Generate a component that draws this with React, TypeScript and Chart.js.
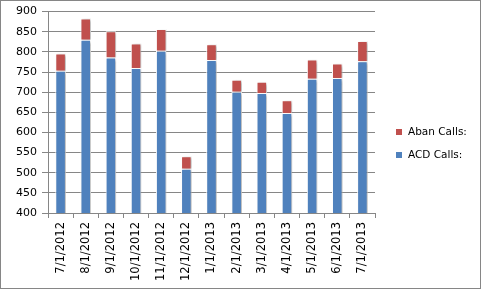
import React, { useEffect, useRef } from "react";
import { Chart, registerables } from "chart.js";

Chart.register(...registerables);

const categories = [
  "7/1/2012", "8/1/2012", "9/1/2012", "10/1/2012", "11/1/2012", "12/1/2012",
  "1/1/2013", "2/1/2013", "3/1/2013", "4/1/2013", "5/1/2013", "6/1/2013", "7/1/2013",
];
const acdCalls = [753, 830, 786, 760, 803, 510, 780, 701, 698, 648, 733, 735, 777];
const abanCalls = [43, 53, 65, 61, 54, 31, 39, 30, 28, 32, 48, 36, 50];
const seriesNames = ["ACD Calls:", "Aban Calls:"];
const yMin = 400;
const yMax = 900;
const yStep = 50;

const BLUE = "#4F81BD";
const RED = "#C0504D";
const GRID = "#868686";
const FONT = "'DejaVu Sans', sans-serif";

const shadowPlugin = {
  id: "barShadow",
  beforeDatasetsDraw(chart: any) {
    const ctx = chart.ctx;
    ctx.save();
    ctx.shadowColor = "rgba(0,0,0,0.3)";
    ctx.shadowBlur = 3;
    ctx.shadowOffsetX = 2;
    ctx.shadowOffsetY = 1;
  },
  afterDatasetsDraw(chart: any) {
    chart.ctx.restore();
  },
};

const legendAndBorderPlugin = {
  id: "customLegend",
  afterDraw(chart: any) {
    const ctx = chart.ctx;
    ctx.save();
    const ds = chart.data.datasets.slice().reverse();
    const boxX = 396;
    let cy = 132;
    ctx.font = `10.5px ${FONT}`;
    ctx.textBaseline = "middle";
    ctx.textAlign = "left";
    ds.forEach((d: any) => {
      ctx.fillStyle = d.backgroundColor;
      ctx.fillRect(boxX, cy - 3, 6, 6);
      ctx.fillStyle = "#000";
      ctx.fillText(d.label, 408, cy);
      cy += 23;
    });
    ctx.strokeStyle = GRID;
    ctx.lineWidth = 1;
    ctx.strokeRect(0.5, 0.5, 480, 288);
    ctx.restore();
  },
};

export default function App() {
  const ref = useRef<HTMLCanvasElement>(null);
  useEffect(() => {
    if (!ref.current) return;
    const chart = new Chart(ref.current, {
      type: "bar",
      data: {
        labels: categories,
        datasets: [
          {
            label: seriesNames[0],
            data: acdCalls,
            backgroundColor: BLUE,
            borderColor: "#FFFFFF",
            borderWidth: 1,
            barPercentage: 0.42,
            categoryPercentage: 1,
          },
          {
            label: seriesNames[1],
            data: abanCalls,
            backgroundColor: RED,
            borderColor: "#FFFFFF",
            borderWidth: 1,
            barPercentage: 0.42,
            categoryPercentage: 1,
          },
        ],
      },
      options: {
        responsive: false,
        animation: false,
        layout: { padding: { top: 11, right: 106, left: 0, bottom: 0 } },
        plugins: { legend: { display: false }, tooltip: { enabled: false } },
        scales: {
          x: {
            stacked: true,
            offset: true,
            grid: {
              offset: true,
              drawOnChartArea: false,
              drawTicks: true,
              tickLength: 5,
              color: GRID,
            },
            border: { display: true, color: GRID },
            ticks: {
              minRotation: 90,
              maxRotation: 90,
              autoSkip: false,
              padding: 4,
              color: "#000",
              font: { family: FONT, size: 11.5 },
            },
            afterFit(scale: any) {
              scale.height = 76;
            },
          },
          y: {
            stacked: true,
            min: yMin,
            max: yMax,
            grid: { color: GRID, tickLength: 6, drawTicks: true },
            border: { display: true, color: GRID },
            ticks: {
              stepSize: yStep,
              padding: 5,
              color: "#000",
              font: { family: FONT, size: 11 },
            },
            afterFit(scale: any) {
              scale.width = 48;
            },
          },
        },
      },
      plugins: [shadowPlugin, legendAndBorderPlugin],
    });
    return () => chart.destroy();
  }, []);
  return (
    <canvas
      ref={ref}
      width={481}
      height={289}
      style={{ position: "absolute", left: 0, top: 0, background: "#fff" }}
    />
  );
}
